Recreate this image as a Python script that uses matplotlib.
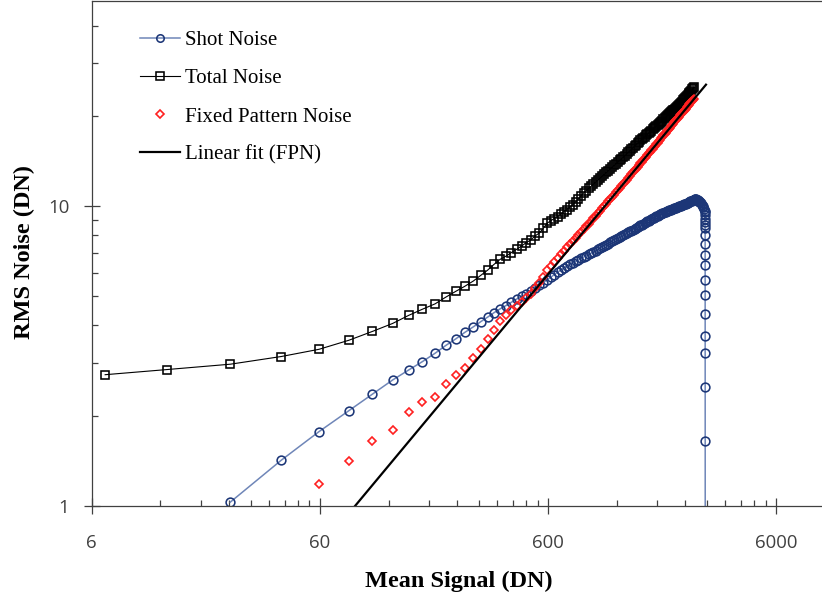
import matplotlib
matplotlib.use("Agg")
import matplotlib.pyplot as plt
import numpy as np
from matplotlib.ticker import FixedLocator, FixedFormatter, NullFormatter

plt.rcParams['font.family'] = ['Open Sans', 'DejaVu Sans']

# mean signal (DN) for each exposure step
signal = [6.87, 12.8, 24.3, 40.6, 59.5, 80.5, 102, 125, 147, 169,
          192, 214, 237, 259, 283, 305, 326, 348, 370, 393,
          415, 438, 461, 483, 505, 528, 550,
          572, 594, 617, 639, 661, 683, 705, 727, 750, 772,
          794, 816, 838, 861, 883, 905, 927, 949, 972, 994,
          1016, 1038, 1060, 1083, 1105, 1127, 1149, 1171, 1194, 1216,
          1238, 1260, 1282, 1305, 1327, 1349, 1371, 1393, 1416, 1438,
          1460, 1482, 1504, 1527, 1549, 1571, 1593, 1615, 1638, 1660,
          1682, 1704, 1726, 1749, 1771, 1793, 1815, 1837, 1860, 1882,
          1904, 1926, 1948, 1971, 1993, 2015, 2037, 2059, 2082, 2104,
          2126, 2148, 2170, 2193, 2215, 2237, 2259, 2281, 2304, 2326,
          2348, 2370, 2392, 2415, 2437, 2459, 2481, 2503, 2526, 2548,
          2570, 2592, 2614]

total_noise = [2.74, 2.85, 2.97, 3.15, 3.33, 3.57, 3.82, 4.06, 4.32, 4.53,
               4.72, 4.97, 5.20, 5.40, 5.63, 5.88, 6.11, 6.39, 6.64, 6.81,
               7.00, 7.18, 7.37, 7.56, 7.71, 7.96, 8.13,
               8.42, 8.76, 8.93, 9.09, 9.22, 9.40, 9.59, 9.74, 9.94, 10.11,
               10.33, 10.57, 10.82, 11.07, 11.26, 11.45, 11.64, 11.83, 12.02, 12.21,
               12.39, 12.57, 12.76, 12.95, 13.13, 13.31, 13.49, 13.66, 13.85, 14.02,
               14.19, 14.37, 14.55, 14.74, 14.92, 15.10, 15.28, 15.46, 15.65, 15.83,
               16.00, 16.18, 16.35, 16.55, 16.71, 16.88, 17.04, 17.20, 17.38, 17.54,
               17.70, 17.86, 18.02, 18.19, 18.35, 18.51, 18.67, 18.83, 18.98, 19.14,
               19.29, 19.45, 19.60, 19.77, 19.92, 20.07, 20.23, 20.38, 20.54, 20.69,
               20.84, 20.99, 21.14, 21.30, 21.45, 21.60, 21.75, 21.90, 22.11, 22.31,
               22.50, 22.70, 22.90, 23.10, 23.30, 23.49, 23.69, 23.88, 24.09, 24.28,
               24.48, 24.67, 24.87]

# FPN starts at the 5th point (signal = 59.5)
fpn_noise = [1.18, 1.41, 1.65, 1.79, 2.05, 2.22, 2.31, 2.56, 2.74, 2.89,
             3.11, 3.33, 3.60, 3.87, 4.15, 4.33, 4.49, 4.63, 4.79, 4.94,
             5.11, 5.32, 5.55,
             5.80, 6.10, 6.32, 6.50, 6.70, 6.90, 7.08, 7.28, 7.48, 7.66,
             7.84, 8.02, 8.20, 8.38, 8.56, 8.74, 8.92, 9.10, 9.28, 9.46,
             9.64, 9.82, 10.00, 10.18, 10.37, 10.55, 10.73, 10.91, 11.10, 11.28,
             11.47, 11.66, 11.85, 12.05, 12.24, 12.43, 12.62, 12.80, 13.00, 13.17,
             13.34, 13.52, 13.70, 13.89, 14.07, 14.26, 14.44, 14.62, 14.81, 14.98,
             15.16, 15.34, 15.52, 15.71, 15.90, 16.09, 16.27, 16.46, 16.66, 16.84,
             17.02, 17.20, 17.38, 17.56, 17.74, 17.93, 18.11, 18.28, 18.47, 18.65,
             18.82, 19.00, 19.18, 19.37, 19.54, 19.72, 19.89, 20.07, 20.26, 20.43,
             20.61, 20.78, 20.96, 21.14, 21.32, 21.50, 21.67, 21.85, 22.03, 22.20,
             22.38, 22.55, 22.73]

# shot noise starts at the 3rd point (signal = 24.3)
shot_noise = [1.03, 1.42, 1.77, 2.08, 2.36, 2.63, 2.84, 3.03, 3.23, 3.43,
              3.61, 3.79, 3.96, 4.12, 4.26, 4.41, 4.54, 4.66, 4.78, 4.90,
              5.00, 5.10, 5.21, 5.33, 5.45,
              5.56, 5.67, 5.79, 5.90, 6.01, 6.12, 6.23, 6.31, 6.39, 6.46,
              6.54, 6.61, 6.69, 6.76, 6.83, 6.90, 6.97, 7.04, 7.11, 7.18,
              7.24, 7.31, 7.37, 7.44, 7.50, 7.57, 7.63, 7.69, 7.75, 7.81,
              7.87, 7.93, 7.98, 8.04, 8.11, 8.17, 8.23, 8.29, 8.35, 8.40,
              8.46, 8.51, 8.57, 8.63, 8.68, 8.73, 8.79, 8.84, 8.89, 8.95,
              9.00, 9.05, 9.10, 9.15, 9.20, 9.25, 9.30, 9.35, 9.40, 9.43,
              9.47, 9.50, 9.54, 9.57, 9.60, 9.64, 9.67, 9.70, 9.73, 9.77,
              9.80, 9.83, 9.86, 9.89, 9.92, 9.95, 9.98, 10.01, 10.04, 10.07,
              10.10, 10.13, 10.16, 10.19, 10.22, 10.26, 10.29, 10.32, 10.36, 10.39,
              10.42, 10.45, 10.49]

# shot noise past the last total/FPN point (saturation)
shot_tail_signal = [2636, 2659, 2681, 2703, 2725, 2747, 2770, 2792, 2814, 2836,
                    2858, 2881, 2903, 2925,
                    2930, 2931, 2931, 2932, 2932, 2933, 2933, 2933, 2934, 2934,
                    2934, 2935, 2935, 2935, 2935, 2936, 2936, 2936]
shot_tail_noise = [10.52, 10.54, 10.52, 10.48, 10.44, 10.39, 10.34, 10.28, 10.20, 10.12,
                   10.03, 9.93, 9.80, 9.65,
                   9.55, 9.32, 9.07, 8.88, 8.65, 8.42, 8.00, 7.49, 6.85, 6.35,
                   5.69, 5.05, 4.36, 3.70, 3.24, 2.49, 1.65, 0.60]

fit_x = [85.6, 2958]
fit_y = [1.0, 25.4]

x_ticks = [6, 60, 600, 6000]
x_ticklabels = ['6', '60', '600', '6000']
y_ticks = [1, 10]
y_ticklabels = ['1', '10']

shot_x = signal[2:] + shot_tail_signal
shot_y = shot_noise + shot_tail_noise

fig = plt.figure(figsize=(8.22, 6.01), dpi=100)
ax = fig.add_axes([0.1116, 0.1581, 0.8885, 0.8403])
ax.set_xscale('log')
ax.set_yscale('log')

ax.plot(shot_x, shot_y, color='#6F86B8', lw=1.1, marker='o', ms=6.3,
        mfc='none', mec='#1C3677', mew=1.15, label='Shot Noise')
ax.plot(signal, total_noise, color='black', lw=0.8, marker='s', ms=6.1,
        mfc='none', mec='black', mew=1.15, label='Total Noise')
ax.plot(signal[4:], fpn_noise, ls='none', marker='D', ms=4.3,
        mfc='none', mec='#FF2020', mew=1.2, label='Fixed Pattern Noise')
ax.plot(fit_x, fit_y, color='black', lw=1.6, label='Linear fit (FPN)')

ax.set_xlim(6, 9550)
ax.set_ylim(1, 48.3)

ax.xaxis.set_major_locator(FixedLocator(x_ticks))
ax.xaxis.set_major_formatter(FixedFormatter(x_ticklabels))
ax.xaxis.set_minor_locator(FixedLocator([6 * k * 10 ** n for n in range(4) for k in range(2, 10)]))
ax.xaxis.set_minor_formatter(NullFormatter())
ax.yaxis.set_major_locator(FixedLocator(y_ticks))
ax.yaxis.set_major_formatter(FixedFormatter(y_ticklabels))
ax.yaxis.set_minor_locator(FixedLocator([k * 10 ** n for n in range(2) for k in range(2, 10)]))
ax.yaxis.set_minor_formatter(NullFormatter())

ax.tick_params(which='major', direction='inout', length=12, width=0.9,
               color='#404040', labelsize=13.4, labelcolor='#404040')
ax.tick_params(axis='x', which='major', pad=14)
ax.tick_params(axis='y', which='major', pad=10)
ax.tick_params(which='minor', direction='in', length=4.5, width=0.9, color='#404040')

for s in ['left', 'bottom', 'top']:
    ax.spines[s].set_color('#404040')
    ax.spines[s].set_linewidth(0.9)
ax.spines['right'].set_visible(False)

fig.text(0.558, 0.0333, 'Mean Signal (DN)', family='Liberation Serif',
         weight='bold', fontsize=17.5, ha='center', va='center')
fig.text(0.0292, 0.5815, 'RMS Noise (DN)', family='Liberation Serif',
         weight='bold', fontsize=17.5, ha='center', va='center', rotation=90)

ax.legend(loc='upper left', bbox_to_anchor=(0.0661, 0.941), frameon=False,
          prop={'family': 'Liberation Serif', 'size': 15},
          borderaxespad=0, borderpad=0, handlelength=1.9, handletextpad=0.25,
          labelspacing=0.89, markerscale=0.85)

fig.savefig('out.png', dpi=100)
